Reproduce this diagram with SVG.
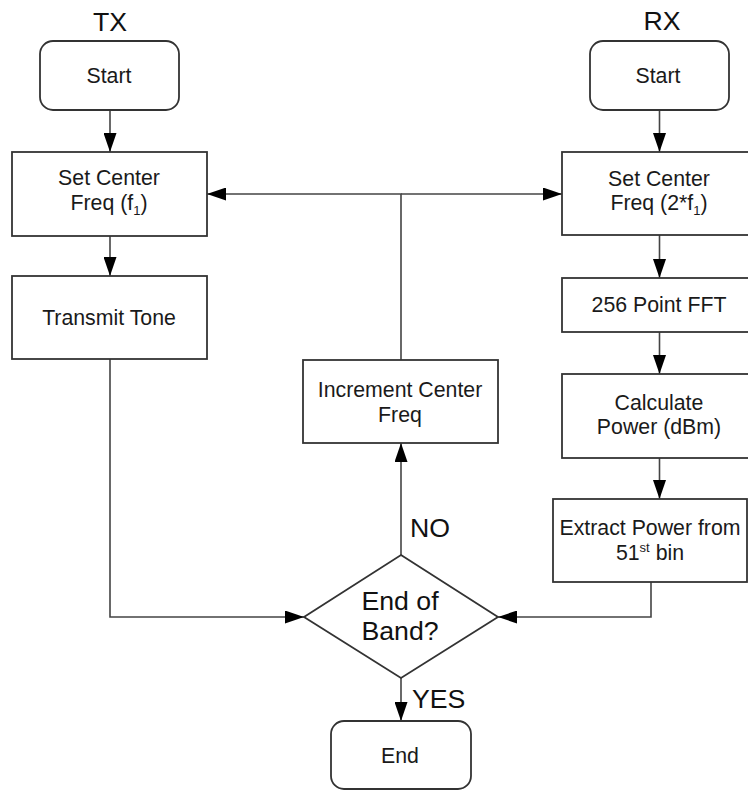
<svg xmlns="http://www.w3.org/2000/svg" width="748" height="790" viewBox="0 0 748 790">
<style>
.box{fill:#fff;stroke:#333;stroke-width:1.8}
.t{font-family:"Liberation Sans",Arial,sans-serif;font-size:21.3px;fill:#1a1a1a;text-anchor:middle}
.big{font-family:"Liberation Sans",Arial,sans-serif;font-size:26.7px;fill:#111;text-anchor:middle}
.lbl{font-family:"Liberation Sans",Arial,sans-serif;font-size:26.7px;fill:#111}
.c{fill:none;stroke:#444;stroke-width:1.6}
</style>
<defs>
<marker id="ah" markerUnits="userSpaceOnUse" markerWidth="19" markerHeight="13" refX="19" refY="6.5" orient="auto">
<path d="M0,0 L19,6.5 L0,13 z" fill="#000"/>
</marker>
</defs>
<rect width="748" height="790" fill="#fff"/>
<text class="big" x="110" y="31">TX</text>
<text class="big" x="662" y="30">RX</text>
<g id="connectors">
<line class="c" x1="110" y1="110" x2="110" y2="152" marker-end="url(#ah)"/>
<line class="c" x1="110" y1="236" x2="110" y2="276" marker-end="url(#ah)"/>
<polyline class="c" points="110,359 110,617 304,617" marker-end="url(#ah)"/>
<line class="c" x1="659.5" y1="110" x2="659.5" y2="152" marker-end="url(#ah)"/>
<line class="c" x1="659.5" y1="235" x2="659.5" y2="278" marker-end="url(#ah)"/>
<line class="c" x1="659.5" y1="332" x2="659.5" y2="374" marker-end="url(#ah)"/>
<line class="c" x1="659.5" y1="458" x2="659.5" y2="499" marker-end="url(#ah)"/>
<polyline class="c" points="651,582 651,617 498,617" marker-end="url(#ah)"/>
<line class="c" x1="401" y1="555" x2="401" y2="443" marker-end="url(#ah)"/>
<polyline class="c" points="401,360 401,194 207,194" marker-end="url(#ah)"/>
<line class="c" x1="401" y1="194" x2="562" y2="194" marker-end="url(#ah)"/>
<line class="c" x1="401" y1="678" x2="401" y2="721" marker-end="url(#ah)"/>
<text class="lbl" x="410" y="537">NO</text>
<text class="lbl" x="412" y="708">YES</text>
</g>
<g id="tx-start">
<rect class="box" x="40" y="41" width="139" height="69" rx="13"/>
<text class="t" x="109" y="83">Start</text>
</g>
<g id="tx-set-center">
<rect class="box" x="12" y="152" width="195" height="84"/>
<text class="t" x="109" y="185">Set Center</text>
<text class="t" x="109" y="210">Freq (f<tspan font-size="13" dy="5">1</tspan><tspan dy="-5">)</tspan></text>
</g>
<g id="transmit-tone">
<rect class="box" x="12" y="276" width="195" height="83"/>
<text class="t" x="109" y="325">Transmit Tone</text>
</g>
<g id="rx-start">
<rect class="box" x="590" y="41" width="139" height="69" rx="13"/>
<text class="t" x="658" y="83">Start</text>
</g>
<g id="rx-set-center">
<rect class="box" x="562" y="152" width="195" height="83"/>
<text class="t" x="659" y="186">Set Center</text>
<text class="t" x="659" y="210">Freq (2*f<tspan font-size="13" dy="5">1</tspan><tspan dy="-5">)</tspan></text>
</g>
<g id="fft">
<rect class="box" x="562" y="278" width="195" height="54"/>
<text class="t" x="659" y="312">256 Point FFT</text>
</g>
<g id="calc-power">
<rect class="box" x="562" y="374" width="195" height="84"/>
<text class="t" x="659" y="410">Calculate</text>
<text class="t" x="659" y="434">Power (dBm)</text>
</g>
<g id="extract-power">
<rect class="box" x="553" y="499" width="194" height="83"/>
<text class="t" x="650" y="535">Extract Power from</text>
<text class="t" x="650" y="560">51<tspan font-size="13" dy="-8">st</tspan><tspan dy="8"> bin</tspan></text>
</g>
<g id="increment">
<rect class="box" x="303" y="360" width="195" height="83"/>
<text class="t" x="400" y="397">Increment Center</text>
<text class="t" x="400" y="422">Freq</text>
</g>
<g id="end-of-band">
<polygon class="box" points="401,555 498,617 401,678 304,617"/>
<text class="big" x="400" y="610">End of</text>
<text class="big" x="400" y="640">Band?</text>
</g>
<g id="end">
<rect class="box" x="331" y="721" width="140" height="68" rx="13"/>
<text class="t" x="400" y="763">End</text>
</g>
</svg>
